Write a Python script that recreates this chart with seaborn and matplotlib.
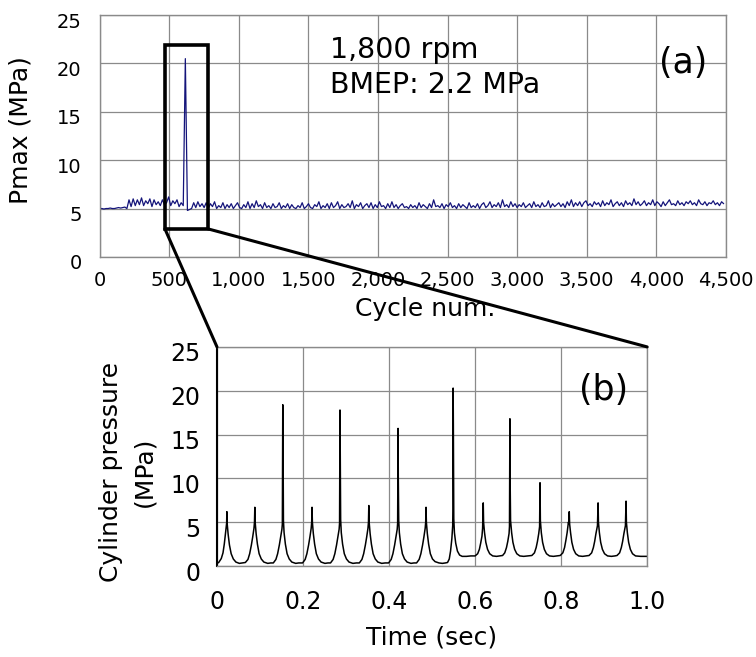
import numpy as np
import pandas as pd
import matplotlib
matplotlib.use("Agg")
import matplotlib.pyplot as plt
import seaborn as sns
from matplotlib.patches import Rectangle, ConnectionPatch
from matplotlib.ticker import FuncFormatter
import matplotlib.transforms as mtransforms

# ---------------- data ----------------
# (a) Pmax per cycle, sampled every 15 cycles
cycles = np.arange(0, 4500, 15)
pmax = [
    5.0, 5.0, 4.95, 5.0, 5.0, 5.05, 5.0, 5.0, 5.05, 5.1,
    5.05, 5.1, 5.15, 5.0, 5.9, 5.2, 6.0, 5.3, 5.9, 5.4,
    6.1, 5.3, 5.8, 5.5, 6.0, 5.2, 5.9, 5.4, 5.7, 5.3,
    5.9, 5.4, 5.6, 6.2, 5.3, 5.8, 5.5, 5.9, 5.2, 5.6,
    5.3, 20.5, 4.8, 4.9, 5.0, 5.6, 5.1, 5.7, 5.2, 5.5,
    5.1, 5.6, 5.0, 5.5, 5.2, 5.7, 5.0, 5.3, 5.1, 5.6,
    5.0, 5.4, 5.1, 5.5, 5.0, 5.3, 5.6, 5.1, 5.0, 5.4,
    5.1, 5.7, 5.0, 5.5, 5.1, 5.8, 5.2, 5.4, 5.0, 5.6,
    5.1, 5.3, 5.0, 5.5, 5.1, 5.2, 5.6, 5.0, 5.3, 5.1,
    5.5, 5.0, 5.4, 5.1, 5.0, 5.3, 5.1, 5.6, 5.0, 5.2,
    5.5, 5.1, 5.0, 5.4, 5.2, 5.7, 5.0, 5.3, 5.1, 5.5,
    5.0, 5.6, 5.1, 5.3, 5.7, 5.0, 5.4, 5.1, 5.2, 5.5,
    5.1, 5.8, 5.0, 5.4, 5.2, 5.6, 5.0, 5.3, 5.5, 5.1,
    5.6, 5.0, 5.4, 5.1, 5.7, 5.2, 5.3, 5.0, 5.5, 5.1,
    5.7, 5.1, 5.4, 5.0, 5.3, 5.5, 5.1, 5.2, 5.0, 5.4,
    5.1, 5.3, 5.0, 5.6, 5.1, 5.4, 5.2, 5.0, 5.5, 5.1,
    5.9, 5.2, 5.3, 5.1, 5.5, 5.0, 5.4, 5.2, 5.6, 5.1,
    5.3, 5.0, 5.5, 5.1, 5.4, 5.2, 5.0, 5.6, 5.1, 5.3,
    5.1, 5.5, 5.0, 5.4, 5.6, 5.1, 5.3, 5.7, 5.1, 5.4,
    5.2, 5.6, 5.1, 5.9, 5.2, 5.4, 5.1, 5.7, 5.2, 5.5,
    5.1, 5.4, 5.2, 5.6, 5.1, 5.3, 5.5, 5.1, 5.7, 5.2,
    5.4, 5.1, 5.6, 5.2, 5.3, 5.8, 5.1, 5.5, 5.2, 5.4,
    5.6, 5.2, 5.5, 5.1, 5.7, 5.3, 5.9, 5.2, 5.6, 5.3,
    5.7, 5.2, 5.6, 5.8, 5.3, 5.5, 5.2, 5.7, 5.4, 5.6,
    5.2, 5.8, 5.3, 5.6, 5.4, 5.9, 5.2, 5.5, 5.7, 5.3,
    5.6, 5.2, 5.8, 5.4, 5.6, 5.3, 6.0, 5.4, 5.7, 5.3,
    5.5, 5.8, 5.3, 5.6, 5.4, 5.9, 5.3, 5.7, 5.5, 5.2,
    5.7, 5.3, 5.6, 5.9, 5.4, 5.5, 5.3, 5.8, 5.4, 5.6,
    5.3, 5.7, 5.5, 5.8, 5.4, 5.6, 5.3, 5.9, 5.5, 5.4,
    5.7, 5.3, 5.6, 5.5, 5.8, 5.4, 5.6, 5.3, 5.7, 5.5,
]

# (b) cylinder pressure trace
time_s = [
    0.000, 0.004, 0.010, 0.014, 0.017, 0.019, 0.021, 0.0225, 0.023, 0.0238, 0.026, 0.029, 0.033, 0.038, 0.044, 0.052, 0.060,
    0.066, 0.072, 0.076, 0.080, 0.083, 0.086, 0.0872, 0.088, 0.0888, 0.091, 0.094, 0.098, 0.103, 0.109, 0.118, 0.125,
    0.131, 0.137, 0.141, 0.145, 0.148, 0.151, 0.152, 0.153, 0.1535, 0.1545, 0.156, 0.159, 0.163, 0.168, 0.174, 0.183, 0.190,
    0.199, 0.205, 0.209, 0.213, 0.216, 0.219, 0.2202, 0.221, 0.2218, 0.224, 0.227, 0.231, 0.236, 0.242, 0.251, 0.258,
    0.264, 0.270, 0.274, 0.278, 0.281, 0.284, 0.285, 0.286, 0.2865, 0.2875, 0.289, 0.292, 0.296, 0.301, 0.307, 0.316, 0.324,
    0.331, 0.337, 0.341, 0.345, 0.348, 0.351, 0.3522, 0.353, 0.3538, 0.356, 0.359, 0.363, 0.368, 0.374, 0.383, 0.391,
    0.399, 0.405, 0.409, 0.413, 0.416, 0.419, 0.420, 0.421, 0.4215, 0.4225, 0.424, 0.427, 0.431, 0.436, 0.442, 0.451, 0.458,
    0.464, 0.470, 0.474, 0.478, 0.481, 0.484, 0.4852, 0.486, 0.4868, 0.489, 0.492, 0.496, 0.501, 0.507, 0.516, 0.524, 0.531,
    0.536, 0.540, 0.543, 0.546, 0.548, 0.5485, 0.549, 0.5495, 0.5505, 0.552, 0.555, 0.559, 0.564, 0.570, 0.580, 0.590,
    0.600, 0.606, 0.610, 0.613, 0.616, 0.6175, 0.619, 0.6198, 0.622, 0.625, 0.629, 0.634, 0.641, 0.650, 0.658,
    0.664, 0.669, 0.673, 0.676, 0.679, 0.680, 0.681, 0.6815, 0.6825, 0.685, 0.688, 0.692, 0.697, 0.704, 0.713, 0.722,
    0.732, 0.738, 0.742, 0.745, 0.748, 0.750, 0.751, 0.7518, 0.754, 0.757, 0.761, 0.766, 0.773, 0.782, 0.790,
    0.798, 0.804, 0.808, 0.811, 0.814, 0.816, 0.817, 0.818, 0.819, 0.8198, 0.822, 0.825, 0.829, 0.834, 0.841, 0.850, 0.858,
    0.865, 0.871, 0.875, 0.878, 0.881, 0.8845, 0.886, 0.8868, 0.889, 0.892, 0.896, 0.901, 0.908, 0.917, 0.925,
    0.930, 0.936, 0.940, 0.943, 0.946, 0.9495, 0.951, 0.9518, 0.954, 0.957, 0.961, 0.966, 0.973, 0.985, 1.000,
]
pressure = [
    0.30, 0.40, 0.85, 1.5, 2.5, 3.4, 4.2, 4.9, 6.2, 4.8, 3.6, 2.4, 1.4, 0.8, 0.45, 0.30, 0.35,
    0.40, 0.75, 1.4, 2.4, 3.3, 4.3, 5.0, 6.7, 5.0, 3.7, 2.5, 1.4, 0.8, 0.45, 0.30, 0.35,
    0.35, 0.75, 1.4, 2.4, 3.3, 4.2, 4.8, 18.4, 15.0, 5.2, 3.8, 2.5, 1.4, 0.8, 0.45, 0.30, 0.35,
    0.35, 0.75, 1.4, 2.4, 3.3, 4.3, 5.0, 6.7, 5.0, 3.7, 2.5, 1.4, 0.8, 0.45, 0.30, 0.35,
    0.35, 0.75, 1.4, 2.4, 3.3, 4.2, 4.9, 17.8, 13.0, 5.3, 3.8, 2.5, 1.4, 0.8, 0.45, 0.30, 0.35,
    0.35, 0.75, 1.4, 2.4, 3.3, 4.3, 5.0, 6.9, 5.0, 3.7, 2.5, 1.4, 0.8, 0.45, 0.30, 0.35,
    0.35, 0.75, 1.4, 2.4, 3.3, 4.2, 4.9, 15.7, 10.2, 5.2, 3.8, 2.5, 1.4, 0.8, 0.45, 0.30, 0.35,
    0.35, 0.75, 1.4, 2.4, 3.3, 4.3, 5.0, 6.7, 5.0, 3.7, 2.5, 1.4, 0.8, 0.5, 0.35, 0.30, 0.35,
    0.40, 0.8, 1.7, 3.1, 4.6, 6.5, 20.3, 16.2, 5.4, 3.8, 2.6, 1.7, 1.25, 1.1, 1.1, 1.15,
    1.15, 1.4, 1.9, 2.6, 3.4, 4.3, 7.2, 5.0, 3.8, 2.7, 1.9, 1.4, 1.15, 1.1, 1.15,
    1.2, 1.5, 2.1, 2.8, 3.7, 4.5, 16.8, 9.8, 5.2, 3.8, 2.7, 1.9, 1.4, 1.15, 1.1, 1.15,
    1.2, 1.5, 2.1, 2.8, 3.7, 4.5, 9.5, 5.2, 3.8, 2.7, 1.9, 1.4, 1.15, 1.1, 1.15,
    1.2, 1.5, 2.1, 2.9, 3.8, 4.6, 5.0, 4.8, 6.2, 4.8, 3.8, 2.7, 1.9, 1.4, 1.15, 1.1, 1.15,
    1.2, 1.5, 2.1, 2.8, 3.7, 4.6, 7.2, 5.0, 3.8, 2.7, 1.9, 1.4, 1.15, 1.1, 1.15,
    1.2, 1.5, 2.1, 2.8, 3.7, 4.6, 7.4, 5.0, 3.8, 2.7, 1.9, 1.4, 1.15, 1.1, 1.1,
]

x1_ticks = [0, 500, 1000, 1500, 2000, 2500, 3000, 3500, 4000, 4500]
y_ticks = [0, 5, 10, 15, 20, 25]
x2_ticks = [0, 0.2, 0.4, 0.6, 0.8, 1.0]
x2_labels = ["0", "0.2", "0.4", "0.6", "0.8", "1.0"]
zoom_box = (468, 2.9, 777, 21.9)  # cycle range / pressure range of the zoomed window

df_a = pd.DataFrame({"cycle": cycles, "pmax": pmax})
df_b = pd.DataFrame({"time": time_s, "pressure": pressure})

# ---------------- style ----------------
sns.set_style("white")
plt.rcParams["font.family"] = ["DejaVu Sans"]
plt.rcParams["text.color"] = "black"
plt.rcParams["axes.labelcolor"] = "black"

GRID = "#8a8a8a"
fig = plt.figure(figsize=(7.56, 6.57), dpi=100)
ax1 = fig.add_axes([0.132, 0.609, 0.828, 0.368])
ax2 = fig.add_axes([0.287, 0.1385, 0.569, 0.3335])

# (a)
sns.lineplot(data=df_a, x="cycle", y="pmax", ax=ax1, color="#14147a",
             lw=0.9, estimator=None, sort=False)
ax1.set_xlim(0, 4500)
ax1.set_ylim(0, 25)
ax1.set_xticks(x1_ticks)
ax1.set_yticks(y_ticks)
ax1.xaxis.set_major_formatter(FuncFormatter(lambda v, p: f"{int(v):,}"))
ax1.grid(True, color=GRID, lw=0.9)
ax1.tick_params(length=0, labelsize=14, pad=10, colors="black")
ax1.tick_params(axis="y", pad=13)
for s in ax1.spines.values():
    s.set_color(GRID)
    s.set_linewidth(1.0)
ax1.set_xlabel("Cycle num.", fontsize=18, va="top", color="black")
ax1.xaxis.set_label_coords(0.52, -0.165)
ax1.set_ylabel("Pmax (MPa)", fontsize=18, color="black")
ax1.yaxis.set_label_coords(-0.107, 0.525)
ax1.text(1656, 19.6, "1,800 rpm\nBMEP: 2.2 MPa", fontsize=20.5,
         ha="left", va="center", linespacing=1.3, color="black")
ax1.text(4190, 20.0, "(a)", fontsize=25, ha="center", va="center", color="black")

# (b)
sns.lineplot(data=df_b, x="time", y="pressure", ax=ax2, color="black",
             lw=1.1, estimator=None, sort=False)
ax2.set_xlim(0, 1.0)
ax2.set_ylim(0, 25)
ax2.set_xticks(x2_ticks)
ax2.set_xticklabels(x2_labels)
ax2.set_yticks(y_ticks)
ax2.grid(True, color=GRID, lw=0.9)
ax2.tick_params(length=0, labelsize=17, colors="black")
ax2.tick_params(axis="x", pad=17)
ax2.tick_params(axis="y", pad=12)
for s in ax2.spines.values():
    s.set_color(GRID)
    s.set_linewidth(1.0)
ax2.spines["left"].set_color("black")
ax2.spines["left"].set_linewidth(1.5)
ax2.set_xlabel("Time (sec)", fontsize=18, va="top", color="black")
ax2.xaxis.set_label_coords(0.5, -0.27)
ax2.set_ylabel("Cylinder pressure\n(MPa)", fontsize=18, linespacing=1.5, color="black")
ax2.yaxis.set_label_coords(-0.14, 0.43)
ax2.text(0.898, 20.1, "(b)", fontsize=25, ha="center", va="center", color="black")

# shift y tick labels slightly downward, as in the reference
shift = mtransforms.ScaledTranslation(0, -5 / 100, fig.dpi_scale_trans)
for ax in (ax1, ax2):
    for lab in ax.get_yticklabels():
        lab.set_transform(lab.get_transform() + shift)

# zoom window and connectors
x0, y0, x1, y1 = zoom_box
rect = Rectangle((x0, y0), x1 - x0, y1 - y0, fill=False, ec="black",
                 lw=2.6, clip_on=False, zorder=5)
ax1.add_patch(rect)
for xa, xb in ((x0, 0.0), (x1, 1.0)):
    con = ConnectionPatch(xyA=(xa, y0), coordsA=ax1.transData,
                          xyB=(xb, 1.0), coordsB=ax2.transAxes,
                          color="black", lw=2.2, zorder=6)
    fig.add_artist(con)

fig.savefig("out.png", dpi=100)
